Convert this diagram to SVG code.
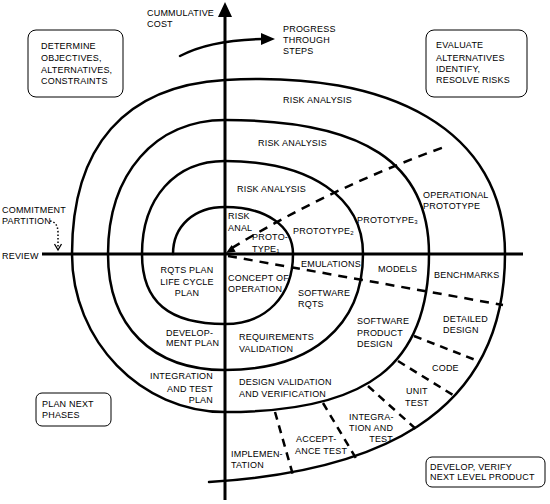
<svg xmlns="http://www.w3.org/2000/svg" width="550" height="504" viewBox="0 0 550 504">
<defs>
<style>
text{font-family:"Liberation Sans",Arial,sans-serif;font-size:9px;letter-spacing:0.2px;fill:#000}
.sub{font-size:6px}
.axis{stroke:#000;stroke-width:3;fill:none}
.spiral{stroke:#000;stroke-width:2.5;fill:none;stroke-linecap:round}
.dash{stroke:#000;stroke-width:2.5;fill:none;stroke-dasharray:9 7}
.band{stroke:#000;stroke-width:2.5;fill:none;stroke-dasharray:8 6}
.dot{stroke:#000;stroke-width:1.5;fill:none;stroke-dasharray:1.5 2}
.box{fill:#fff;stroke:#000;stroke-width:1}
.head{fill:#000;stroke:none}
</style>
</defs>
<rect width="550" height="504" fill="#fff"/>

<!-- axes -->
<g id="axes">
<line class="axis" x1="225" y1="14" x2="225" y2="500"/>
<polygon class="head" points="225,2 218,17 232,17"/>
<line class="axis" x1="42" y1="254" x2="523" y2="254"/>
<text x="147" y="16">CUMMULATIVE</text>
<text x="147" y="27">COST</text>
<text x="2" y="259">REVIEW</text>
</g>

<!-- spiral, four turns -->
<path id="spiral" class="spiral" d="M173,254
C173,226 194,207 225,207
C266,207 293,226 293,254
C293,296 266,324 225,324
C169,324 142,302 142,254
C142,198 175,161 225,161
C311,161 363,198 363,254
C363,326 311,370 225,370
C152,370 108,326 108,254
C108,174 155,120 225,120
C364,120 429,163 429,254
C429,365 368,412 225,412
C141,412 72,341 72,254
C72,146 125,86 225,80
C390,70 505,130 505,254
C505,420 370,472 209,482"/>

<!-- progress arrow -->
<g id="progress">
<path class="spiral" d="M180,56 Q210,40 262,39"/>
<polygon class="head" points="275,39 261,33 261,45"/>
<text x="283" y="32">PROGRESS</text>
<text x="283" y="43">THROUGH</text>
<text x="283" y="54">STEPS</text>
</g>

<!-- connectors -->
<g id="connectors">
<path class="dash" d="M232,248 Q330,188 447,146"/>
<polygon class="head" points="226,253 235.7,251.8 231.7,245"/>
<line class="dash" x1="228" y1="256" x2="503" y2="305"/>
<line class="band" x1="414" y1="336" x2="478" y2="361"/>
<line class="band" x1="398" y1="361" x2="453" y2="395"/>
<line class="band" x1="368" y1="386" x2="417" y2="430"/>
<line class="band" x1="323" y1="403" x2="357" y2="460"/>
<line class="band" x1="275" y1="412" x2="293" y2="475"/>
<path class="dot" d="M50,221 Q58,222 58,233 L58,248"/>
<polyline points="54.5,244 58,250 61.5,244" fill="none" stroke="#000" stroke-width="1.3"/>
</g>

<!-- quadrant boxes -->
<g id="box-determine">
<rect class="box" x="28" y="30" width="95" height="67" rx="8"/>
<text x="41" y="49">DETERMINE</text>
<text x="41" y="61">OBJECTIVES,</text>
<text x="41" y="73">ALTERNATIVES,</text>
<text x="41" y="84">CONSTRAINTS</text>
</g>
<g id="box-evaluate">
<rect class="box" x="426" y="30" width="101" height="67" rx="8"/>
<text x="436" y="48">EVALUATE</text>
<text x="436" y="61">ALTERNATIVES</text>
<text x="436" y="72">IDENTIFY,</text>
<text x="436" y="83">RESOLVE RISKS</text>
</g>
<g id="box-plan">
<rect class="box" x="36" y="393" width="75" height="33" rx="6"/>
<text x="42" y="407">PLAN NEXT</text>
<text x="42" y="418">PHASES</text>
</g>
<g id="box-develop">
<rect class="box" x="426" y="457" width="119" height="30" rx="6"/>
<text x="430" y="470">DEVELOP, VERIFY</text>
<text x="430" y="480">NEXT LEVEL PRODUCT</text>
</g>

<!-- stage labels -->
<g id="labels">
<text x="283" y="103">RISK ANALYSIS</text>
<text x="258" y="146">RISK ANALYSIS</text>
<text x="237" y="192">RISK ANALYSIS</text>
<text x="228" y="219">RISK</text>
<text x="228" y="231">ANAL</text>
<text x="252" y="240">PROTO-</text>
<text x="252" y="252">TYPE<tspan class="sub" dy="1">1</tspan></text>
<text x="293" y="234">PROTOTYPE<tspan class="sub" dy="1">2</tspan></text>
<text x="357" y="223">PROTOTYPE<tspan class="sub" dy="1">3</tspan></text>
<text x="423" y="198">OPERATIONAL</text>
<text x="423" y="209">PROTOTYPE</text>
<text x="2" y="213">COMMITMENT</text>
<text x="2" y="224">PARTITION</text>
<text x="187" y="273" text-anchor="middle">RQTS PLAN</text>
<text x="187" y="285" text-anchor="middle">LIFE CYCLE</text>
<text x="187" y="296" text-anchor="middle">PLAN</text>
<text x="228" y="281">CONCEPT OF</text>
<text x="228" y="292">OPERATION</text>
<text x="301" y="267">EMULATIONS</text>
<text x="378" y="272">MODELS</text>
<text x="434" y="278">BENCHMARKS</text>
<text x="298" y="296">SOFTWARE</text>
<text x="298" y="307">RQTS</text>
<text x="357" y="324">SOFTWARE</text>
<text x="357" y="336">PRODUCT</text>
<text x="357" y="347">DESIGN</text>
<text x="443" y="322">DETAILED</text>
<text x="443" y="333">DESIGN</text>
<text x="432" y="371">CODE</text>
<text x="406" y="394">UNIT</text>
<text x="405" y="406">TEST</text>
<text x="166" y="336">DEVELOP-</text>
<text x="166" y="346">MENT PLAN</text>
<text x="239" y="340">REQUIREMENTS</text>
<text x="239" y="352">VALIDATION</text>
<text x="213" y="379" text-anchor="end">INTEGRATION</text>
<text x="213" y="392" text-anchor="end">AND TEST</text>
<text x="213" y="403" text-anchor="end">PLAN</text>
<text x="239" y="385">DESIGN VALIDATION</text>
<text x="239" y="397">AND VERIFICATION</text>
<text x="349" y="420">INTEGRA-</text>
<text x="349" y="431">TION AND</text>
<text x="393" y="442" text-anchor="end">TEST</text>
<text x="296" y="442">ACCEPT-</text>
<text x="295" y="454">ANCE TEST</text>
<text x="231" y="457">IMPLEMEN-</text>
<text x="231" y="468">TATION</text>
</g>
</svg>
